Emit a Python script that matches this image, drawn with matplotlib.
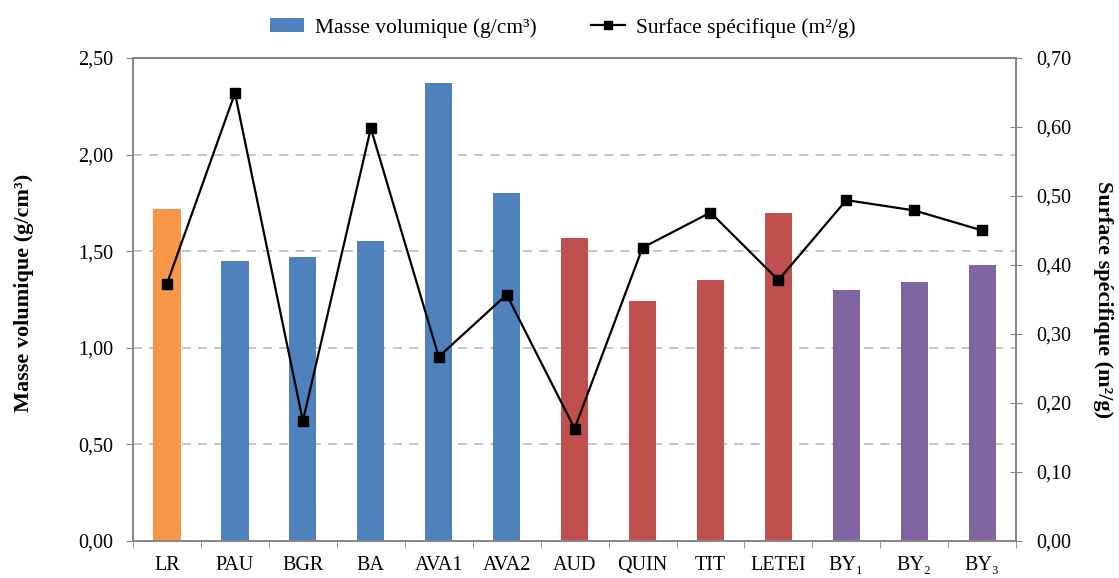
import matplotlib
matplotlib.use("Agg")
import matplotlib.pyplot as plt
from matplotlib.patches import Patch
from matplotlib.lines import Line2D
from matplotlib.ticker import FixedLocator, FuncFormatter

plt.rcParams['font.family'] = ['Liberation Serif', 'DejaVu Serif']
plt.rcParams['font.size'] = 14.5

# data
categories = ["LR", "PAU", "BGR", "BA", "AVA1", "AVA2", "AUD", "QUIN",
              "TIT", "LETEI", "BY\u2081", "BY\u2082", "BY\u2083"]
masse_vol = [1.72, 1.45, 1.47, 1.55, 2.37, 1.80, 1.57, 1.24,
             1.35, 1.70, 1.30, 1.34, 1.43]
surface_spec = [0.373, 0.649, 0.174, 0.598, 0.267, 0.357, 0.163, 0.425,
                0.476, 0.378, 0.494, 0.479, 0.450]
groups = ["orange", "blue", "blue", "blue", "blue", "blue", "red", "red",
          "red", "red", "purple", "purple", "purple"]
palette = {"orange": "#F79646", "blue": "#4F81BD",
           "red": "#C0504D", "purple": "#8064A2"}

spine_col = "#868686"
comma = FuncFormatter(lambda v, p: f"{v:.2f}".replace(".", ","))

fig = plt.figure(figsize=(11.19, 5.78), dpi=100)
ax = fig.add_axes([0.1189, 0.064, 0.7892, 0.8358])
x = list(range(len(categories)))

ax.bar(x, masse_vol, width=0.4, color=[palette[g] for g in groups], zorder=2)
ax.set_xlim(-0.5, len(categories) - 0.5)
ax.set_ylim(0, 2.5)
ax.set_yticks([0, 0.5, 1.0, 1.5, 2.0, 2.5])
ax.yaxis.set_major_formatter(comma)
for yv in [0.5, 1.0, 1.5, 2.0]:
    ax.axhline(yv, color="#C0C0C0", lw=1.3, ls=(0, (5, 4)), zorder=1)

ax.set_xticks(x)
ax.set_xticklabels(categories)
ax.xaxis.set_minor_locator(FixedLocator([i - 0.5 for i in range(len(categories) + 1)]))
ax.tick_params(axis="x", which="major", length=0, pad=11)
ax.tick_params(axis="x", which="minor", length=5, direction="out", color=spine_col)
ax.tick_params(axis="y", length=5, direction="out", color=spine_col, pad=9)
ax.set_ylabel("Masse volumique (g/cm\u00b3)", fontweight="bold", fontsize=16)
ax.yaxis.set_label_coords(-0.112, 0.513)

ax2 = ax.twinx()
ax2.plot(x, surface_spec, color="black", lw=1.6, marker="s", ms=6.5, zorder=3)
ax2.set_ylim(0, 0.7)
ax2.set_yticks([0, 0.1, 0.2, 0.3, 0.4, 0.5, 0.6, 0.7])
ax2.yaxis.set_major_formatter(comma)
ax2.tick_params(axis="y", length=9, direction="inout", color=spine_col, pad=10)
ax2.set_ylabel("Surface spécifique (m\u00b2/g)", fontweight="bold",
               fontsize=16, rotation=270, labelpad=30)

for a in (ax, ax2):
    for s in a.spines.values():
        s.set_color(spine_col)
        s.set_linewidth(1.3)

handles = [Patch(facecolor="#4F81BD", label="Masse volumique (g/cm\u00b3)"),
           Line2D([], [], color="black", lw=1.6, marker="s", ms=6,
                  label="Surface spécifique (m\u00b2/g)")]
fig.legend(handles=handles, loc="center", bbox_to_anchor=(0.503, 0.952),
           ncol=2, frameon=False, fontsize=15.5, handlelength=1.6,
           handleheight=0.6, columnspacing=2.5, handletextpad=0.5)

fig.savefig("out.png", dpi=100)
